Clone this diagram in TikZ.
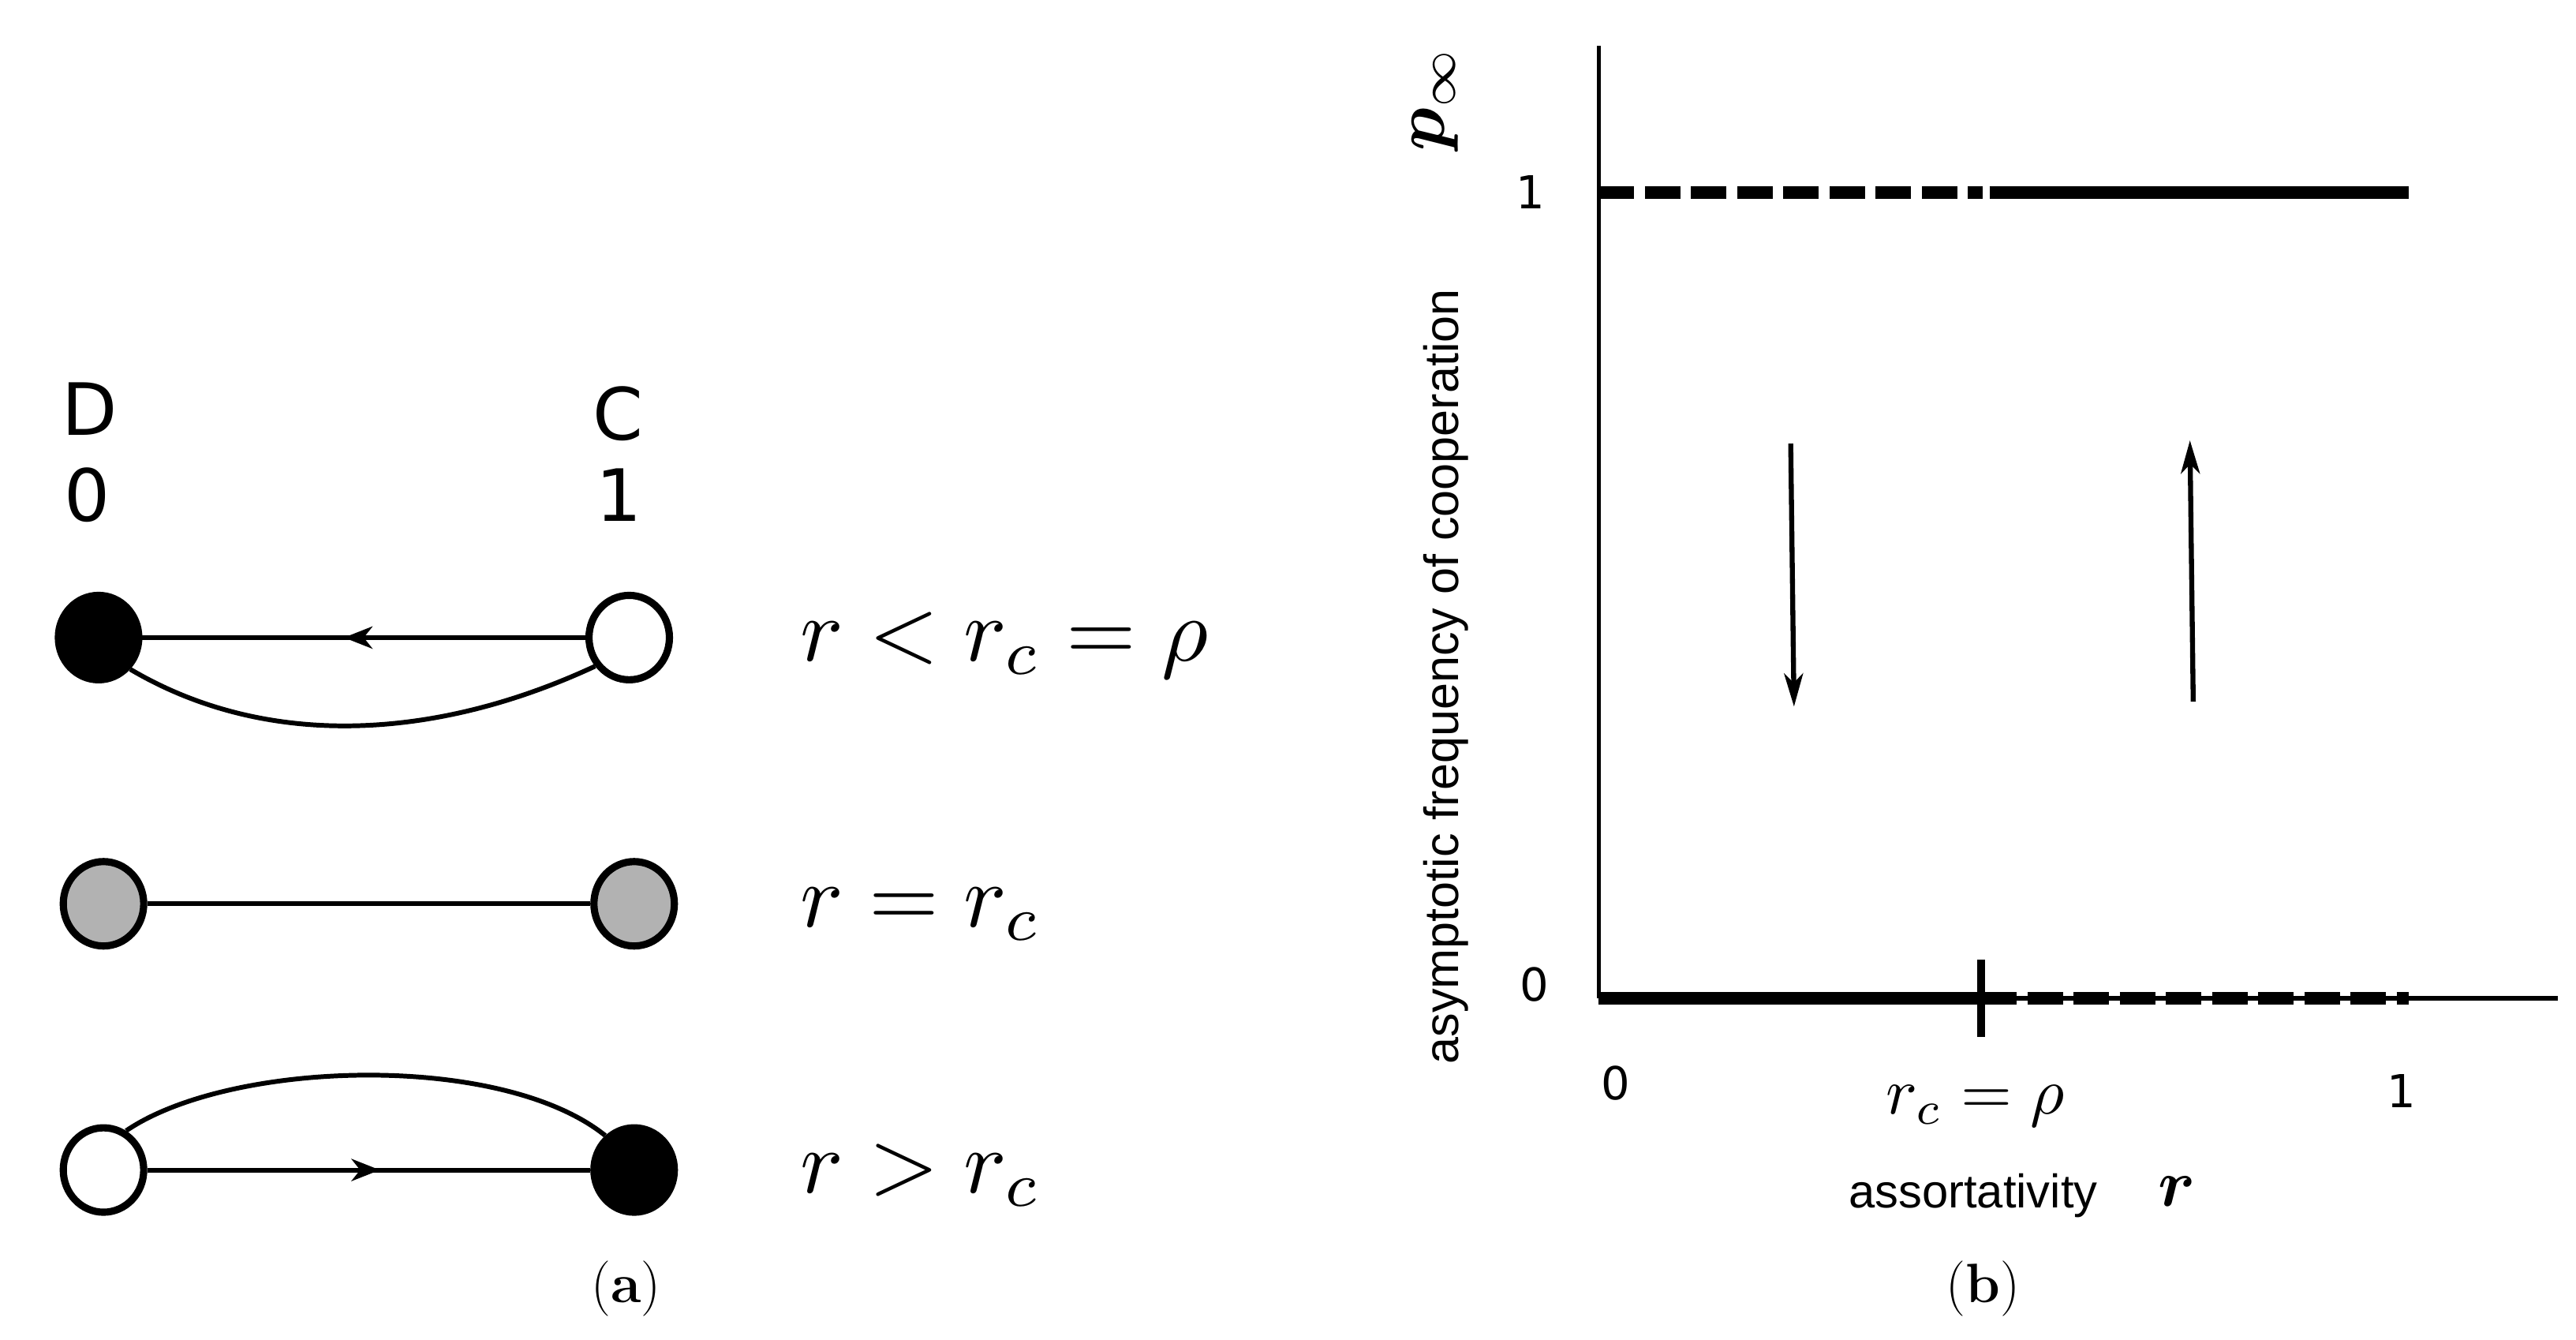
\documentclass[tikz,border=0pt]{standalone}
\usepackage{fontspec}
\usepackage{bm}
\newfontfamily\lsans{Liberation Sans}
\newfontfamily\dsans{DejaVu Sans}
\usetikzlibrary{arrows.meta,decorations.markings,shapes.geometric}
\definecolor{nodegray}{gray}{0.70}
\begin{document}
\begin{tikzpicture}[x=0.020823cm,y=-0.020823cm,
  nd/.style={ellipse, draw=black, line width=2.6pt, minimum width=1.02cm, minimum height=1.07cm, inner sep=0pt},
  blk/.style={nd, fill=black},
  wht/.style={nd, fill=white},
  gry/.style={nd, fill=nodegray},
  conn/.style={line width=1.7pt},
  midarrow/.style={postaction={decorate}, decoration={markings, mark=at position #1 with {\arrow{Stealth[length=0.36cm,width=0.28cm,inset=0.11cm]}}}},
  biglbl/.style={font=\dsans\fontsize{26}{31}\selectfont, inner sep=0pt},
  ticklbl/.style={font=\dsans\fontsize{16.4}{20}\selectfont, inner sep=0pt},
  mathlbl/.style={inner sep=0pt, anchor=base west},
  axisline/.style={line width=1.6pt},
  thickline/.style={line width=4.5pt, line cap=butt},
  thickdash/.style={line width=4.5pt, line cap=butt, dash pattern=on 0.45cm off 0.135cm},
  flowarrow/.style={line width=1.8pt, -{Stealth[length=0.42cm,width=0.24cm,inset=0.12cm]}},
  caption/.style={font=\fontsize{20}{24}\selectfont, inner sep=0pt}
]
\fill[white] (0,0) rectangle (1568,815);
\useasboundingbox (0,0) rectangle (1568,815);

% ---------- panel (a) ----------
\node[biglbl] (Dl) at (54.7,249) {D};
\node[biglbl] (D0) at (53,301) {0};
\node[biglbl] (Cl) at (376,252) {C};
\node[biglbl] (C1) at (377,301) {1};

% row 1
\node[blk] (b1) at (60,388) {};
\node[wht] (w1) at (383,388) {};
\draw[conn, midarrow=0.545] (w1) -- (b1);
\draw[conn] (b1.-45) .. controls (160,455) and (262,452) .. (w1.-140);
\node[mathlbl] (m1) at (487,402) {\scalebox{3.25}{$r<r_c=\rho$}};

% row 2
\node[gry] (g1) at (63,550) {};
\node[gry] (g2) at (386,550) {};
\draw[conn] (g1) -- (g2);
\node[mathlbl] (m2) at (487,564) {\scalebox{3.25}{$r=r_c$}};

% row 3
\node[wht] (w3) at (63,712) {};
\node[blk] (b3) at (386,712) {};
\draw[conn, midarrow=0.525] (w3) -- (b3);
\draw[conn] (w3.60) .. controls (140,645) and (305,640) .. (b3.130);
\node[mathlbl] (m3) at (487,726) {\scalebox{3.25}{$r>r_c$}};

\node[caption] (capa) at (381,784) {(\textbf{a})};

% ---------- panel (b) ----------
\coordinate (O) at (973.2,607.5);
\coordinate (Ytop) at (973.2,28);
\coordinate (Xend) at (1557,607.5);
\coordinate (T1) at (973.2,117);
\coordinate (T1d) at (1206.7,117);
\coordinate (T1s) at (1211,117);
\coordinate (T1e) at (1466.4,117);
\coordinate (Bc) at (1206,607.5);
\coordinate (B0e) at (1466.4,607.5);
\coordinate (tk1) at (1206,584);
\coordinate (tk2) at (1206,631);
\coordinate (ad1) at (1090,270);
\coordinate (ad2) at (1092,430);
\coordinate (au1) at (1335,427);
\coordinate (au2) at (1333,268);

\draw[axisline] (O) -- (Ytop);
\draw[axisline] (O) -- (Xend);
\draw[thickdash] (T1) -- (T1d);
\draw[thickline] (T1s) -- (T1e);
\draw[thickline] (O) -- (Bc);
\draw[thickdash] (Bc) -- (B0e);
\draw[line width=2.8pt] (tk1) -- (tk2);

\draw[flowarrow] (ad1) -- (ad2);
\draw[flowarrow] (au1) -- (au2);

\node[ticklbl] (y1) at (931.7,116.7) {1};
\node[ticklbl] (y0) at (934,599) {0};
\node[ticklbl] (x0) at (983.5,659) {0};
\node[ticklbl] (x1) at (1462,664) {1};

\node[rotate=90, anchor=base, inner sep=0pt] (pinf) at (879,60) {\scalebox{2.6}{$\bm{p}_{\infty}$}};
\node[rotate=90, anchor=base, inner sep=0pt, font=\lsans\fontsize{17.4}{21}\selectfont] (ylab) at (887.7,411.6) {asymptotic frequency of cooperation};

\node[anchor=base, inner sep=0pt] (rc) at (1202.5,678) {\scalebox{2.38}{$r_c=\rho$}};
\node[anchor=base, inner sep=0pt, font=\lsans\fontsize{17}{20}\selectfont] (xlab) at (1201,735) {assortativity};
\node[anchor=base, inner sep=0pt] (xr) at (1325,734) {\scalebox{2.4}{$\bm{r}$}};

\node[caption] (capb) at (1207,784) {(\textbf{b})};
\end{tikzpicture}
\end{document}
